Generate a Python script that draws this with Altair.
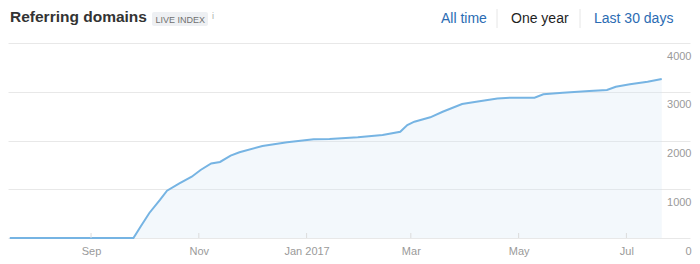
import altair as alt
import pandas as pd

# ---- data ----
dates = ["2016-07-17", "2016-09-25", "2016-09-29", "2016-10-04", "2016-10-10", "2016-10-14",
         "2016-10-21", "2016-10-28", "2016-11-02", "2016-11-08", "2016-11-13", "2016-11-19",
         "2016-11-24", "2016-12-07", "2016-12-21", "2017-01-05", "2017-01-14", "2017-01-30",
         "2017-02-13", "2017-02-23", "2017-02-27", "2017-03-03", "2017-03-12", "2017-03-19",
         "2017-03-30", "2017-04-07", "2017-04-19", "2017-04-26", "2017-05-10", "2017-05-15",
         "2017-05-26", "2017-06-10", "2017-06-20", "2017-06-25", "2017-07-03", "2017-07-13",
         "2017-07-21"]
domains = [0, 0, 230, 513, 780, 970,
           1120, 1258, 1395, 1530, 1560, 1690,
           1760, 1887, 1963, 2024, 2031, 2065,
           2113, 2180, 2318, 2386, 2476, 2590,
           2748, 2796, 2860, 2878, 2878, 2947,
           2980, 3015, 3035, 3103, 3152, 3206,
           3261]

tick_dates = ["2016-09-01", "2016-11-01", "2017-01-01", "2017-03-01", "2017-05-01", "2017-07-01"]
tick_labels = ["Sep", "Nov", "Jan 2017", "Mar", "May", "Jul"]
y_ticks = [0, 1000, 2000, 3000, 4000]

title_text = ["Referring domains"]
badge_text = ["LIVE INDEX"]
info_text = ["i"]
range_options = ["All time", "One year", "Last 30 days"]

FONT = "Liberation Sans"
LEFT, TOP = 8, 43

df = pd.DataFrame({"date": dates, "domains": domains})
ticks_df = pd.DataFrame({"date": tick_dates})


def dt(s):
    y, m, d = (int(p) for p in s.split("-"))
    return alt.DateTime(year=y, month=m, date=d, utc=True)


label_expr = "''"
for d, l in reversed(list(zip(tick_dates, tick_labels))):
    label_expr = f"utcFormat(datum.value, '%Y-%m-%d') == '{d}' ? '{l}' : ({label_expr})"

x_scale = alt.Scale(type="utc", domain=[dt("2016-07-16"), dt("2017-08-06")], nice=False)
y_scale = alt.Scale(domain=[0, 4000], nice=False)

x_axis = alt.Axis(values=[dt(d) for d in tick_dates], labelExpr=label_expr, grid=False,
                  domain=False, ticks=False, tickSize=0, labelPadding=7, labelColor="#9a9a9a",
                  labelFontSize=11, labelFont=FONT, labelFlush=False, labelOverlap=False, title=None)
y_axis = alt.Axis(orient="right", values=y_ticks, format="d", grid=True, gridColor="#e8e8e8",
                  domain=False, ticks=False, tickSize=0, labelAlign="right", labelBaseline="middle",
                  labelOffset=13, labelPadding=1, labelColor="#9a9a9a", labelFontSize=11,
                  labelFont=FONT, labelFlush=False, labelOverlap=False, title=None)

base = alt.Chart(df).encode(
    x=alt.X("date:T", scale=x_scale, axis=x_axis),
    y=alt.Y("domains:Q", scale=y_scale, axis=y_axis),
)

area = base.mark_area(color="#cfe3f5", opacity=0.25)
line = base.mark_line(color="#76b4e3", strokeWidth=2)

tick_rules = alt.Chart(ticks_df).mark_rule(color="#dcdcdc", strokeWidth=1).encode(
    x=alt.X("date:T", scale=x_scale),
    y=alt.value(190), y2=alt.value(195),
)


def txt(text, px, py, **kw):
    return alt.Chart(pd.DataFrame({"t": [text]})).mark_text(
        align="left", baseline="middle", font=FONT, **kw
    ).encode(text="t:N", x=alt.value(px - LEFT), y=alt.value(py - TOP))


header = [
    txt(title_text[0], 10, 17, fontSize=15.5, fontWeight="bold", color="#333333"),
    alt.Chart(pd.DataFrame({"a": [0]})).mark_rect(color="#eef0f3", cornerRadius=2).encode(
        x=alt.value(152 - LEFT), x2=alt.value(208 - LEFT),
        y=alt.value(12 - TOP), y2=alt.value(26 - TOP)),
    txt(badge_text[0], 155.5, 19.5, fontSize=9, color="#707070"),
    txt(info_text[0], 212, 15.5, fontSize=9, color="#aaaaaa"),
    txt(range_options[0], 441, 18.5, fontSize=14, color="#2b6cb3"),
    txt(range_options[1], 511, 18.5, fontSize=14, color="#1f1f1f"),
    txt(range_options[2], 594, 18.5, fontSize=14, color="#2b6cb3"),
    alt.Chart(pd.DataFrame({"a": [0]})).mark_rule(color="#e6e6e6").encode(
        x=alt.value(497 - LEFT), y=alt.value(9 - TOP), y2=alt.value(28 - TOP)),
    alt.Chart(pd.DataFrame({"a": [0]})).mark_rule(color="#e6e6e6").encode(
        x=alt.value(580 - LEFT), y=alt.value(9 - TOP), y2=alt.value(28 - TOP)),
]

chart = alt.layer(area, line, tick_rules, *header).properties(
    width=682, height=195,
    padding={"left": LEFT, "top": TOP, "right": 10, "bottom": 26},
    autosize=alt.AutoSizeParams(type="none"),
    background="white",
).configure_view(stroke=None)

chart.save("out.html", embed_options={"renderer": "svg", "actions": False})
